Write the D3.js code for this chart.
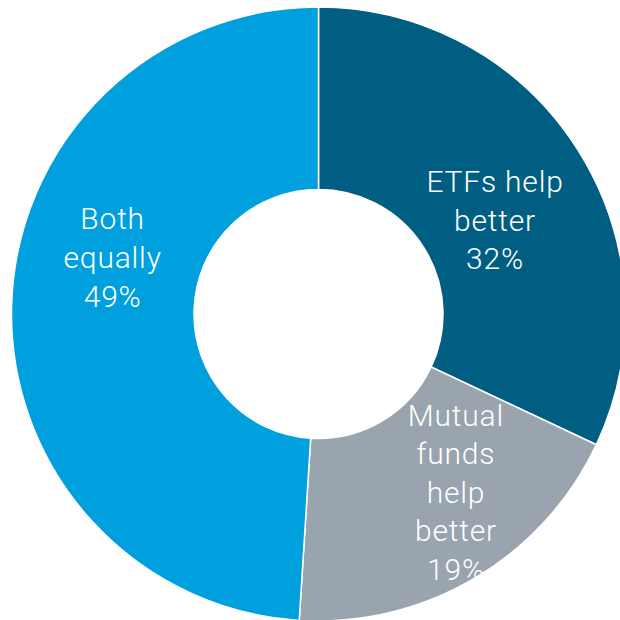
<!DOCTYPE html>
<html>
<head>
<meta charset="utf-8">
<script src="https://cdn.jsdelivr.net/npm/d3@7"></script>
<style>
  html, body { margin: 0; padding: 0; background: #fff; overflow: hidden; }
  svg { display: block; }
  .slice-label { font-family: Roboto, "Open Sans", sans-serif; font-weight: 300; fill: #fff; letter-spacing: 0.8px; }
</style>
</head>
<body>
<svg id="chart" width="620" height="620"></svg>
<script>
// Survey answers: which fund type helps better
const categories = ["ETFs help better", "Mutual funds help better", "Both equally"];
const shares = [32, 19, 49];
const labelLines = [
  ["ETFs help", "better", "32%"],
  ["Mutual", "funds", "help", "better", "19%"],
  ["Both", "equally", "49%"]
];
const colors = ["#005e83", "#99a4ae", "#009fdd"];

const width = 620, height = 620;
const cx = 318.5, cy = 314;
const outerR = 307, innerR = 124.5;

const svg = d3.select("#chart");
const g = svg.append("g").attr("transform", `translate(${cx},${cy})`);

const pie = d3.pie().value(d => d.value).sort(null);
const arc = d3.arc().innerRadius(innerR).outerRadius(outerR);
const data = categories.map((c, i) => ({ name: c, value: shares[i], lines: labelLines[i], color: colors[i] }));
const arcs = pie(data);

g.selectAll("path.slice")
  .data(arcs)
  .join("path")
  .attr("class", "slice")
  .attr("d", arc)
  .attr("fill", d => d.data.color)
  .attr("stroke", "#fff")
  .attr("stroke-width", 1.5);

// Labels sit near each slice's centroid, nudged to fit inside the ring
const labelArc = d3.arc().innerRadius(215).outerRadius(215);
const nudge = [[-5, 29], [28, 1], [9, -42]];
const lineH = 38.6, fontSize = 30;

g.selectAll("text.slice-label")
  .data(arcs)
  .join("text")
  .attr("class", "slice-label")
  .attr("font-size", fontSize)
  .attr("text-anchor", "middle")
  .each(function(d, i) {
    const [x, y] = labelArc.centroid(d);
    const n = d.data.lines.length;
    const px = x + nudge[i][0];
    const py = y + nudge[i][1];
    const firstBase = py - (n - 1) * lineH / 2 + fontSize * 0.09;
    d3.select(this).selectAll("tspan")
      .data(d.data.lines)
      .join("tspan")
      .attr("x", px)
      .attr("y", (t, k) => firstBase + k * lineH)
      .text(t => t);
  });
</script>
</body>
</html>
